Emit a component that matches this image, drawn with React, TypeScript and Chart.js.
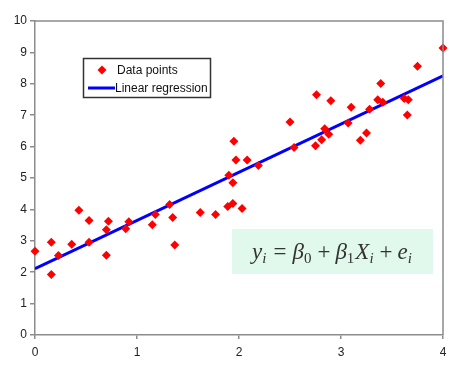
import React, { useEffect, useRef } from "react";
import { Chart, registerables } from "chart.js";

Chart.register(...registerables);

const pointX = [0.0, 0.16, 0.16, 0.23, 0.36, 0.43, 0.53, 0.53, 0.7, 0.72, 0.7, 0.89, 0.92, 1.15, 1.18, 1.32, 1.35, 1.37, 1.62, 1.77, 1.89, 1.94, 2.03, 1.9, 1.94, 1.95, 1.97, 2.08, 2.19, 2.5, 2.54, 2.76, 2.75, 2.81, 2.84, 2.88, 2.9, 3.07, 3.1, 3.19, 3.25, 3.28, 3.36, 3.39, 3.41, 3.62, 3.66, 3.65, 3.75, 4.0];
const pointY = [2.67, 2.95, 1.93, 2.53, 2.89, 3.97, 3.65, 2.95, 3.35, 3.62, 2.54, 3.38, 3.61, 3.51, 3.84, 4.16, 3.74, 2.87, 3.9, 3.84, 4.09, 4.19, 4.03, 5.09, 4.85, 6.17, 5.57, 5.57, 5.4, 6.78, 5.97, 7.65, 6.03, 6.22, 6.57, 6.39, 7.46, 6.75, 7.25, 6.2, 6.43, 7.19, 7.49, 8.01, 7.41, 7.53, 7.49, 7.01, 8.56, 9.14];
const lineX = [0, 4];
const lineY = [2.11, 8.25];
const xTickValues = [0, 1, 2, 3, 4];
const yTickValues = [0, 1, 2, 3, 4, 5, 6, 7, 8, 9, 10];
const seriesLabels = ["Data points", "Linear regression"];

const legendPlugin = {
  id: "boxLegend",
  afterDraw(chart: any) {
    const ctx = chart.ctx;
    const ds = chart.data.datasets;
    ctx.save();
    const bx = 83.5, by = 58.5, bw = 127, bh = 39;
    ctx.fillStyle = "#ffffff";
    ctx.fillRect(bx, by, bw, bh);
    ctx.strokeStyle = "#333333";
    ctx.lineWidth = 1.5;
    ctx.strokeRect(bx, by, bw, bh);
    ctx.font = '12px "Liberation Sans", Arial, sans-serif';
    ctx.textBaseline = "middle";
    const cx = 102, cy = 70;
    ctx.beginPath();
    ctx.moveTo(cx, cy - 4.5);
    ctx.lineTo(cx + 4.5, cy);
    ctx.lineTo(cx, cy + 4.5);
    ctx.lineTo(cx - 4.5, cy);
    ctx.closePath();
    ctx.fillStyle = ds[0].backgroundColor;
    ctx.fill();
    ctx.fillStyle = "#111111";
    ctx.fillText(ds[0].label, 117, cy + 0.5);
    const ly = 88;
    ctx.strokeStyle = ds[1].borderColor;
    ctx.lineWidth = 3;
    ctx.beginPath();
    ctx.moveTo(88, ly);
    ctx.lineTo(115, ly);
    ctx.stroke();
    ctx.fillText(ds[1].label, 115, ly + 0.5);
    ctx.restore();
  },
};

const equationPlugin = {
  id: "equation",
  afterDraw(chart: any) {
    const ctx = chart.ctx;
    ctx.save();
    ctx.fillStyle = "#e1f8ec";
    ctx.fillRect(232, 229, 201, 45);
    const big = 23;
    const small = 15;
    const fam = '"Liberation Serif", "DejaVu Serif", serif';
    const segs: [string, string, number, number, number][] = [
      ["y", `italic ${big}px ${fam}`, 0, 0, 0],
      ["i", `italic ${small}px ${fam}`, 4, 0, 0],
      ["=", `${big}px ${fam}`, 0, 7, 6],
      ["\u03B2", `italic ${big}px ${fam}`, 0, 0, 0],
      ["0", `${small}px ${fam}`, 4, 0, 0],
      ["+", `${big}px ${fam}`, 0, 6, 5],
      ["\u03B2", `italic ${big}px ${fam}`, 0, 0, 0],
      ["1", `${small}px ${fam}`, 4, 0, 1],
      ["X", `italic ${big}px ${fam}`, 0, 0, 0],
      ["i", `italic ${small}px ${fam}`, 4, 0, 0],
      ["+", `${big}px ${fam}`, 0, 6, 5],
      ["e", `italic ${big}px ${fam}`, 0, 0, 0],
      ["i", `italic ${small}px ${fam}`, 4, 0, 0],
    ];
    let total = 0;
    const widths: number[] = [];
    for (const s of segs) {
      ctx.font = s[1];
      const w = ctx.measureText(s[0]).width + s[3] + s[4];
      widths.push(w);
      total += w;
    }
    let x = 332 - total / 2;
    const baseY = 259;
    ctx.fillStyle = "#333333";
    ctx.textBaseline = "alphabetic";
    segs.forEach((s, i) => {
      ctx.font = s[1];
      ctx.fillText(s[0], x + s[3], baseY + s[2]);
      x += widths[i];
    });
    ctx.restore();
  },
};

const borderPlugin = {
  id: "areaBorder",
  afterDraw(chart: any) {
    const { left, right, top, bottom } = chart.chartArea;
    const ctx = chart.ctx;
    ctx.save();
    ctx.strokeStyle = "#8c8c8c";
    ctx.lineWidth = 1.5;
    ctx.beginPath();
    ctx.moveTo(left, top);
    ctx.lineTo(right, top);
    ctx.lineTo(right, bottom);
    ctx.stroke();
    ctx.restore();
  },
};

export default function App() {
  const ref = useRef<HTMLCanvasElement | null>(null);
  useEffect(() => {
    document.body.style.margin = "0";
    const canvas = ref.current!;
    const tickFont = { family: '"Liberation Sans", Arial, sans-serif', size: 12 };
    const chart = new Chart(canvas, {
      type: "scatter",
      data: {
        datasets: [
          {
            label: seriesLabels[0],
            data: pointX.map((x, i) => ({ x, y: pointY[i] })),
            backgroundColor: "#ff0000",
            borderColor: "#ff0000",
            pointStyle: "rectRot",
            pointRadius: 4.5,
            pointBorderWidth: 0,
            clip: false as any,
            order: 1,
          },
          {
            label: seriesLabels[1],
            data: lineX.map((x, i) => ({ x, y: lineY[i] })),
            showLine: true,
            borderColor: "#0000ff",
            backgroundColor: "#0000ff",
            borderWidth: 3,
            pointRadius: 0,
            order: 2,
          },
        ],
      },
      options: {
        responsive: false,
        animation: false,
        layout: { padding: { top: 21, right: 7, left: 0, bottom: 0 } },
        plugins: { legend: { display: false }, tooltip: { enabled: false } },
        scales: {
          x: {
            type: "linear",
            min: xTickValues[0],
            max: xTickValues[xTickValues.length - 1],
            afterBuildTicks: (s: any) => {
              s.ticks = xTickValues.map((v) => ({ value: v }));
            },
            afterFit: (s: any) => {
              s.height = 35;
              s.paddingLeft = 0;
              s.paddingRight = 0;
            },
            ticks: { font: tickFont, color: "#222222", padding: 6 },
            grid: { drawOnChartArea: false, drawTicks: true, tickLength: 4, color: "#8c8c8c", lineWidth: 1.5 },
            border: { display: true, color: "#8c8c8c", width: 1.5 },
          },
          y: {
            type: "linear",
            min: yTickValues[0],
            max: yTickValues[yTickValues.length - 1],
            afterBuildTicks: (s: any) => {
              s.ticks = yTickValues.map((v) => ({ value: v }));
            },
            afterFit: (s: any) => {
              s.width = 35;
              s.paddingTop = 0;
              s.paddingBottom = 0;
            },
            ticks: { font: tickFont, color: "#222222", padding: 3 },
            grid: { drawOnChartArea: false, drawTicks: true, tickLength: 5, color: "#8c8c8c", lineWidth: 1.5 },
            border: { display: true, color: "#8c8c8c", width: 1.5 },
          },
        },
      } as any,
      plugins: [borderPlugin, legendPlugin, equationPlugin],
    });
    return () => chart.destroy();
  }, []);
  return (
    <div style={{ width: 450, height: 370, background: "#fff" }}>
      <canvas ref={ref} width={450} height={370} style={{ display: "block" }} />
    </div>
  );
}
